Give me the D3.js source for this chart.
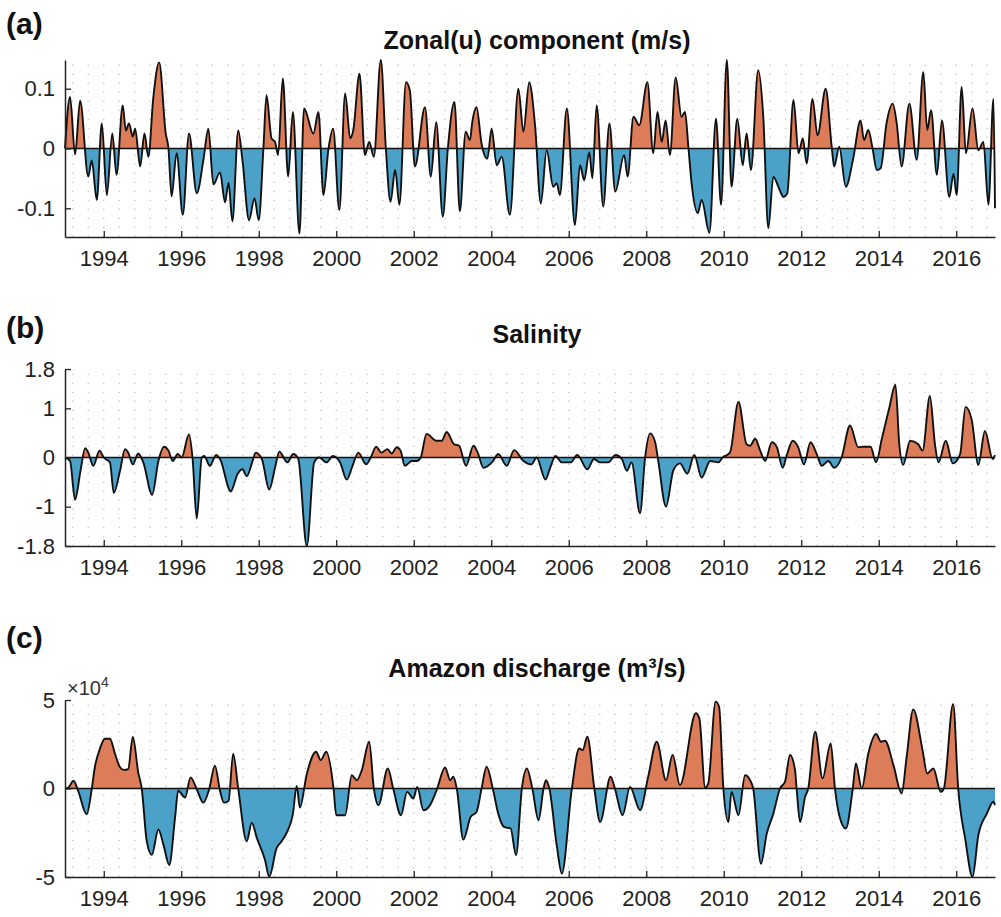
<!DOCTYPE html>
<html><head><meta charset="utf-8">
<script src="https://cdn.jsdelivr.net/npm/d3@7"></script>
<style>body{margin:0;background:#fff}svg{font-family:"Liberation Sans",Arial,sans-serif}</style>
</head><body><svg id="c" width="1001" height="917"></svg>
<script>
// Panel (a) Zonal(u) component: [year, value]
const zonalT=[1993,1993.13,1993.26,1993.39,1993.6,1993.69,1993.82,1993.95,1994.08,1994.22,1994.33,1994.49,1994.57,1994.65,1994.75,1994.81,1994.94,1995.05,1995.15,1995.28,1995.43,1995.6,1995.67,1995.75,1995.88,1996.04,1996.2,1996.4,1996.57,1996.7,1996.83,1997.0,1997.13,1997.22,1997.32,1997.47,1997.58,1997.75,1997.89,1998.0,1998.12,1998.2,1998.33,1998.42,1998.5,1998.62,1998.76,1998.88,1999.05,1999.17,1999.41,1999.54,1999.67,1999.8,1999.92,2000.08,2000.23,2000.36,2000.44,2000.6,2000.74,2000.85,2000.97,2001.15,2001.28,2001.4,2001.52,2001.63,2001.8,2001.9,2002.03,2002.29,2002.44,2002.58,2002.75,2002.88,2003.05,2003.19,2003.34,2003.45,2003.51,2003.62,2003.75,2003.9,2004.01,2004.14,2004.27,2004.48,2004.7,2004.83,2004.98,2005.13,2005.28,2005.43,2005.6,2005.69,2005.77,2005.95,2006.16,2006.29,2006.4,2006.53,2006.61,2006.72,2006.89,2007.05,2007.2,2007.43,2007.52,2007.67,2007.82,2008.03,2008.18,2008.29,2008.4,2008.5,2008.61,2008.76,2008.91,2009.0,2009.09,2009.17,2009.33,2009.43,2009.63,2009.8,2009.93,2010.08,2010.2,2010.35,2010.49,2010.59,2010.7,2010.89,2011.02,2011.15,2011.28,2011.41,2011.54,2011.64,2011.8,2011.93,2012.04,2012.14,2012.29,2012.42,2012.63,2012.79,2012.85,2012.98,2013.15,2013.34,2013.53,2013.62,2013.73,2013.84,2013.95,2014.05,2014.2,2014.36,2014.46,2014.59,2014.79,2014.98,2015.15,2015.25,2015.35,2015.5,2015.63,2015.82,2015.93,2016.01,2016.14,2016.25,2016.42,2016.57,2016.7,2016.83,2016.96,2017.0];
const zonalV=[0,0.086,-0.01,0.08,-0.047,-0.02,-0.086,0.042,-0.078,0.025,-0.044,0.072,0.03,0.042,0.02,0.033,-0.03,0.025,-0.014,0.086,0.144,0.025,0,-0.08,-0.008,-0.111,0.025,-0.075,-0.02,0.033,-0.06,-0.04,-0.09,-0.057,-0.122,0.03,-0.02,-0.12,-0.083,-0.12,0,0.089,0.017,0.011,-0.011,0.117,-0.047,0.061,-0.142,0.067,0.025,0.061,-0.078,0,0.033,-0.103,0.092,0.017,0.031,0.125,-0.011,0.011,-0.014,0.148,0,-0.089,-0.036,-0.094,0.111,0.097,-0.03,0.069,-0.047,0.044,-0.114,0,0.078,-0.105,0.028,0.014,0.044,0.069,0.008,-0.017,0.033,-0.028,-0.014,-0.111,0.1,0.028,0.111,0.039,-0.092,-0.003,-0.064,-0.058,-0.078,0.067,-0.128,-0.028,-0.053,-0.006,-0.05,0.072,-0.097,0.042,-0.072,-0.011,-0.047,0.053,0.039,0.111,-0.008,0.061,0.011,0.047,-0.011,0.119,0.053,0.061,0,-0.058,-0.108,-0.086,-0.141,0.05,-0.094,0.148,-0.064,0.05,-0.028,0.025,-0.036,0.131,0.053,-0.133,-0.047,-0.064,-0.081,-0.075,0.081,-0.008,0.017,-0.025,0.083,0.022,0.1,0,-0.03,0.003,-0.064,-0.017,0.047,0.014,0.031,0,-0.036,-0.033,0.042,0.075,0.044,-0.03,0.075,-0.019,0.128,0.031,0.064,-0.044,0.047,-0.081,-0.042,-0.078,0.103,-0.008,0.067,-0.003,0.011,-0.094,0.083,-0.1];
// Panel (b) Salinity
const salT=[1993,1993.13,1993.26,1993.4,1993.52,1993.6,1993.73,1993.89,1994.0,1994.16,1994.26,1994.42,1994.55,1994.63,1994.75,1994.89,1995.02,1995.25,1995.41,1995.55,1995.67,1995.78,1995.91,1996.01,1996.2,1996.29,1996.4,1996.53,1996.59,1996.74,1996.9,1997.0,1997.28,1997.45,1997.58,1997.69,1997.83,1997.92,1998.08,1998.27,1998.42,1998.53,1998.74,1998.89,1999.02,1999.24,1999.43,1999.56,1999.75,1999.91,2000.1,2000.27,2000.42,2000.57,2000.77,2000.89,2001.03,2001.17,2001.32,2001.43,2001.56,2001.66,2001.77,2001.95,2002.08,2002.18,2002.33,2002.59,2002.72,2002.85,2003.04,2003.17,2003.35,2003.54,2003.65,2003.8,2004.04,2004.18,2004.4,2004.59,2004.83,2005.04,2005.17,2005.4,2005.52,2005.66,2005.82,2006.05,2006.22,2006.48,2006.65,2006.81,2007.02,2007.21,2007.37,2007.5,2007.62,2007.84,2007.97,2008.1,2008.23,2008.31,2008.51,2008.7,2008.87,2009.06,2009.24,2009.43,2009.65,2009.86,2009.97,2010.16,2010.38,2010.59,2010.68,2010.81,2010.94,2011.07,2011.24,2011.37,2011.52,2011.62,2011.78,2011.92,2012.07,2012.24,2012.4,2012.53,2012.7,2012.85,2013.04,2013.26,2013.47,2013.63,2013.79,2013.93,2014.08,2014.27,2014.43,2014.53,2014.63,2014.81,2015.02,2015.13,2015.32,2015.45,2015.54,2015.73,2015.91,2016.1,2016.24,2016.4,2016.57,2016.74,2016.94,2017.0];
const salV=[0,-0.07,-0.86,-0.27,0.19,0.1,-0.17,0.14,0,-0.1,-0.72,-0.27,0.17,0.1,-0.14,0.08,-0.1,-0.76,-0.07,0.22,0.14,-0.07,0.07,0,0.47,0,-1.24,0,0.03,-0.17,0.05,-0.03,-0.69,-0.34,-0.24,-0.38,-0.1,0.1,-0.03,-0.65,-0.21,0.12,-0.1,0.07,-0.03,-1.8,-0.1,0,-0.1,0.03,-0.1,-0.45,-0.17,0.1,-0.14,0,0.22,0.1,0.17,0.08,0.21,0.14,-0.17,-0.07,-0.07,0,0.48,0.34,0.34,0.52,0.27,0.24,-0.17,0.24,0.1,-0.21,-0.08,0.07,-0.17,0.15,-0.07,-0.14,0,-0.45,-0.21,0.03,-0.1,-0.1,0.05,-0.24,-0.03,-0.1,-0.1,0.05,-0.03,-0.27,-0.1,-1.13,0,0.49,0.31,-0.07,-1.0,-0.26,-0.12,-0.33,0.05,-0.41,-0.07,-0.1,0,0.1,1.13,0.27,0.24,0.38,0.14,-0.07,0.31,0.21,-0.21,0.03,0.34,0.21,-0.14,0.31,0.07,-0.17,-0.07,-0.21,0,0.65,0.21,0.22,0.22,-0.1,0.38,1.0,1.48,0.27,-0.15,0.34,0.27,0.14,1.25,0.27,-0.1,0.34,-0.12,0.07,1.03,0.76,-0.15,0.54,-0.03,0.05];
// Panel (c) Amazon discharge (x10^4 m3/s)
const disT=[1993,1993.09,1993.22,1993.34,1993.56,1993.69,1993.77,1993.9,1994.03,1994.16,1994.29,1994.42,1994.52,1994.63,1994.75,1994.89,1994.98,1995.11,1995.24,1995.41,1995.54,1995.69,1995.84,1995.92,1996.1,1996.24,1996.4,1996.57,1996.72,1996.87,1997.0,1997.1,1997.22,1997.34,1997.47,1997.69,1997.82,1997.95,1998.16,1998.27,1998.46,1998.59,1998.74,1998.88,1998.98,1999.06,1999.24,1999.48,1999.6,1999.74,1999.93,2000.0,2000.23,2000.4,2000.53,2000.66,2000.85,2000.97,2001.09,2001.33,2001.47,2001.67,2001.83,2001.99,2002.09,2002.25,2002.42,2002.59,2002.81,2002.94,2003.02,2003.11,2003.28,2003.47,2003.62,2003.75,2003.88,2004.04,2004.18,2004.33,2004.5,2004.64,2004.79,2004.92,2005.06,2005.22,2005.35,2005.41,2005.5,2005.69,2005.82,2006.08,2006.27,2006.36,2006.48,2006.66,2006.81,2007.08,2007.19,2007.39,2007.58,2007.84,2008.05,2008.27,2008.51,2008.68,2008.87,2009.28,2009.37,2009.52,2009.6,2009.79,2009.88,2009.99,2010.12,2010.2,2010.38,2010.55,2010.68,2010.76,2010.96,2011.11,2011.28,2011.45,2011.58,2011.71,2011.84,2011.88,2011.97,2012.1,2012.18,2012.36,2012.55,2012.76,2012.87,2012.98,2013.15,2013.33,2013.41,2013.56,2013.73,2013.93,2014.06,2014.16,2014.38,2014.59,2014.72,2014.89,2015.13,2015.25,2015.41,2015.6,2015.68,2015.92,2016.05,2016.23,2016.42,2016.57,2016.79,2016.96,2017.0];
const disV=[0,0.06,0.44,-0.13,-1.46,-0.04,1.2,2.24,2.81,2.81,1.96,1.2,1.05,1.1,2.91,0.91,0,-2.98,-3.75,-2.32,-3.17,-4.32,-1.65,-0.13,-0.51,0.63,-0.04,-0.8,-0.04,1.29,-0.13,-0.8,-0.7,1.96,0,-2.98,-1.94,-2.79,-4.03,-4.98,-3.37,-2.98,-2.41,-1.46,0.15,-1.08,0.82,2.08,1.6,2.08,0,-1.51,-1.51,0.75,0.47,1.04,2.64,0,-0.94,1.13,0,-1.51,-0.19,-0.57,0.09,-1.23,-0.94,-0.09,1.19,0.47,0.66,0,-2.89,-1.6,-1.32,0,1.23,0,-1.42,-2.17,-2.26,-3.77,0,1.13,0,-1.79,0,0.47,0,-3.21,-4.81,0,2.26,2.17,2.92,0,-1.89,0.66,0,-1.51,0.09,-1.23,0.66,2.64,0.47,1.89,0.19,4.25,3.96,0.06,0.28,4.91,4.62,0,-1.89,-0.19,-1.51,0.75,0.47,0,-4.25,-2.55,-1.42,0,0.38,1.89,1.04,0,-1.89,-0.47,0,3.21,0.57,2.55,0,-1.51,-2.26,0,1.42,0,1.98,3.08,2.64,2.7,1.32,-0.28,1.79,4.47,2.17,0.85,1.13,-0.19,0,4.77,0,-2.83,-5.0,-2.64,-1.42,-0.75,-0.94];

const yearTicks=[1994,1996,1998,2000,2002,2004,2006,2008,2010,2012,2014,2016];
const titles=["Zonal(u) component (m/s)","Salinity","Amazon discharge (m³/s)"];
const letters=["(a)","(b)","(c)"];
const yTickSets=[[-0.1,0,0.1],[-1.8,-1,0,1,1.8],[-5,0,5]];
const yTickLabels=[["-0.1","0","0.1"],["-1.8","-1","0","1","1.8"],["-5","0","5"]];
const yDomains=[[-0.148,0.148],[-1.8,1.8],[-5,5]];

const svg=d3.select("#c");
const L=65,R=995;
const boxes=[{top:60,bot:237,title:49,letter:34},{top:369,bot:546,title:343,letter:338},{top:700,bot:877,title:677,letter:648}];
const series=[[zonalT,zonalV],[salT,salV],[disT,disV]];
const x=d3.scaleLinear().domain([1993,2017]).range([L,R]);
const ORANGE="#dc7c58", BLUE="#4ca1c9";
const curve=d3.curveMonotoneX;

boxes.forEach((b,i)=>{
  const y=d3.scaleLinear().domain(yDomains[i]).range([b.bot,b.top]);
  const g=svg.append("g");
  const grid=g.append("g");
  for(let t=1993.2;t<2017;t+=0.4){
    grid.append("line").attr("x1",x(t)).attr("x2",x(t)).attr("y1",b.bot).attr("y2",b.top)
      .attr("stroke","#c4c4c4").attr("stroke-width",1.3).attr("stroke-dasharray","1.3,7.7");
  }
  const data=series[i][0].map((t,k)=>[t,series[i][1][k]]);
  const y0=y(0);
  const cid="clip"+i;
  const defs=svg.append("defs");
  defs.append("clipPath").attr("id",cid+"p").append("rect").attr("x",L).attr("y",b.top-5).attr("width",R-L+3).attr("height",y0-b.top+5);
  defs.append("clipPath").attr("id",cid+"n").append("rect").attr("x",L).attr("y",y0).attr("width",R-L+3).attr("height",b.bot-y0+5);
  const area=d3.area().curve(curve).x(d=>x(d[0])).y0(y0).y1(d=>y(d[1]));
  g.append("path").datum(data).attr("d",area).attr("fill",ORANGE).attr("clip-path",`url(#${cid}p)`);
  g.append("path").datum(data).attr("d",area).attr("fill",BLUE).attr("clip-path",`url(#${cid}n)`);
  g.append("line").attr("x1",L).attr("x2",R).attr("y1",y0).attr("y2",y0).attr("stroke","#111").attr("stroke-width",1.6);
  g.append("path").datum(data).attr("d",d3.line().curve(curve).x(d=>x(d[0])).y(d=>y(d[1]))).attr("fill","none").attr("stroke","#111").attr("stroke-width",1.9).attr("stroke-linejoin","round");
  const xa=d3.axisBottom(x).tickValues(yearTicks).tickFormat(d3.format("d")).tickSizeInner(-6).tickSizeOuter(0).tickPadding(13);
  const ga=g.append("g").attr("transform",`translate(0,${b.bot})`).call(xa);
  ga.selectAll("text").attr("font-size",22).attr("fill","#222");
  ga.select(".domain").attr("stroke","#222").attr("stroke-width",1.5);
  ga.selectAll(".tick line").attr("stroke","#222").attr("stroke-width",1.3);
  const ya=d3.axisLeft(y).tickValues(yTickSets[i]).tickFormat((d,k)=>yTickLabels[i][k]).tickSizeInner(-6).tickSizeOuter(0).tickPadding(10);
  const gy=g.append("g").attr("transform",`translate(${L},0)`).call(ya);
  gy.selectAll("text").attr("font-size",22).attr("fill","#222");
  gy.select(".domain").attr("stroke","#222").attr("stroke-width",1.5);
  gy.selectAll(".tick line").attr("stroke","#222").attr("stroke-width",1.3);
  svg.append("text").attr("x",537).attr("y",b.title).attr("text-anchor","middle").attr("font-size",25).attr("font-weight","bold").attr("fill","#111").text(titles[i]);
  svg.append("text").attr("x",6).attr("y",b.letter).attr("font-size",30).attr("font-weight","bold").attr("fill","#111").text(letters[i]);
});
const ex=svg.append("text").attr("x",67).attr("y",695).attr("font-size",20).attr("fill","#333");
ex.append("tspan").text("×10");
ex.append("tspan").attr("dy",-8).attr("font-size",14).text("4");
</script></body></html>
